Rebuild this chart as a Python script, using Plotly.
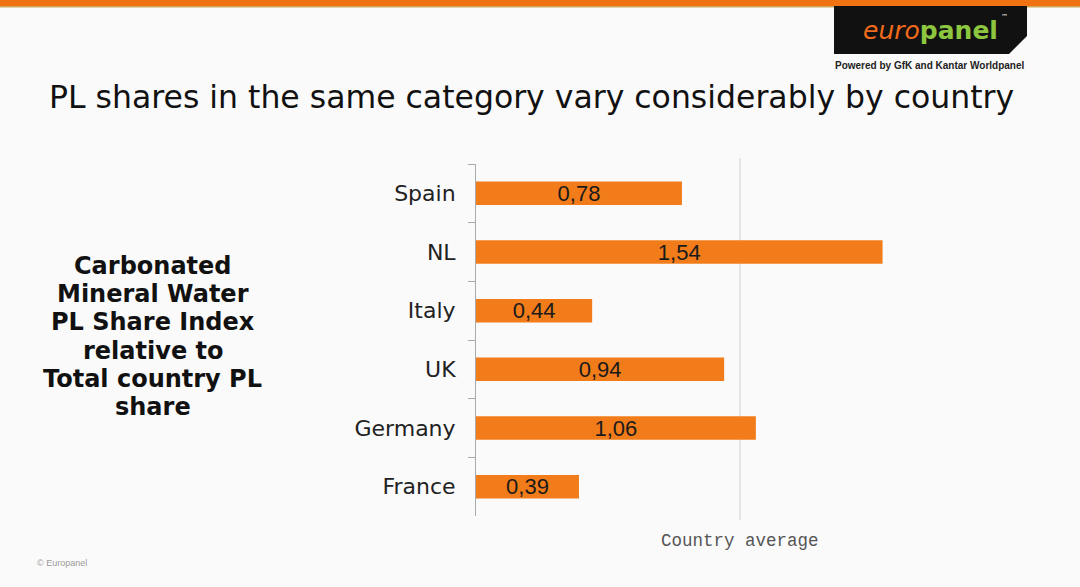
import plotly.graph_objects as go

countries = ["Spain", "NL", "Italy", "UK", "Germany", "France"]
index_values = [0.78, 1.54, 0.44, 0.94, 1.06, 0.39]
country_average = 1.0

title_text = "PL shares in the same category vary considerably by country"
side_lines = ["Carbonated", "Mineral Water", "PL Share Index", "relative to", "Total country PL", "share"]

W, H = 1080, 587
L, R, T, B = 476, 80, 164, 71
PW, PH = W - L - R, H - T - B


def px(x):
    return (x - L) / PW


def py(y):
    return (H - B - y) / PH


BAR = "#F27C1A"

fig = go.Figure()
fig.add_trace(go.Bar(
    y=countries,
    x=index_values,
    orientation="h",
    marker=dict(color=BAR, line=dict(width=0)),
    width=0.4,
    texttemplate="%{x:.2f}",
    textposition="inside",
    insidetextanchor="middle",
    constraintext="none",
    textfont=dict(family="Liberation Sans, Arial", size=22, color="#1a1a1a"),
    hoverinfo="skip",
))

shapes = []
# country average line
shapes.append(dict(type="line", xref="x", yref="paper", x0=country_average, x1=country_average,
                   y0=py(158), y1=py(520), line=dict(color="#cfcfcf", width=1), layer="below"))
# top orange bar
shapes.append(dict(type="rect", xref="paper", yref="paper", x0=px(0), x1=px(W), y0=py(0), y1=py(6),
                   fillcolor="#F07212", line=dict(width=0)))
shapes.append(dict(type="rect", xref="paper", yref="paper", x0=px(0), x1=px(W), y0=py(6), y1=py(7.5),
                   fillcolor="#CDA75A", line=dict(width=0)))
# logo box with slanted corner
pts = [(834, 6), (1027, 6), (1027, 36), (1009, 54), (834, 54)]
path = "M " + " L ".join(f"{px(a)},{py(b)}" for a, b in pts) + " Z"
shapes.append(dict(type="path", xref="paper", yref="paper", path=path,
                   fillcolor="#111111", line=dict(width=0)))

annotations = [
    dict(text=title_text, xref="paper", yref="paper", x=px(531), y=py(97),
         showarrow=False, xanchor="center", yanchor="middle",
         font=dict(family="DejaVu Sans, Verdana", size=31.5, color="#111111")),
    dict(text="Country average", xref="x", yref="paper", x=country_average, y=py(541),
         showarrow=False, xanchor="center", yanchor="middle",
         font=dict(family="Liberation Mono, monospace", size=17.5, color="#555555")),
    dict(text="© Europanel", xref="paper", yref="paper", x=px(35), y=py(563),
         showarrow=False, xanchor="left", yanchor="middle",
         font=dict(family="Liberation Sans, Arial", size=9, color="#9a9a9a")),
    dict(text='<span style="color:#F26A1B"><i>euro</i></span><span style="color:#8DC63F"><b>panel</b></span>',
         xref="paper", yref="paper", x=px(930), y=py(31),
         showarrow=False, xanchor="center", yanchor="middle",
         font=dict(family="DejaVu Sans, Verdana", size=25)),
    dict(text="™", xref="paper", yref="paper", x=px(1004), y=py(17),
         showarrow=False, xanchor="center", yanchor="middle",
         font=dict(family="DejaVu Sans", size=7, color="#ffffff")),
    dict(text="<b>Powered by GfK and Kantar Worldpanel</b>", xref="paper", yref="paper", x=px(930), y=py(65),
         showarrow=False, xanchor="center", yanchor="middle",
         font=dict(family="Liberation Sans, Arial", size=10, color="#222222")),
]
for i, line in enumerate(side_lines):
    annotations.append(dict(text=f"<b>{line}</b>", xref="paper", yref="paper",
                            x=px(153), y=py(266 + i * 28.2),
                            showarrow=False, xanchor="center", yanchor="middle",
                            font=dict(family="DejaVu Sans, Verdana", size=24, color="#111111")))

fig.update_layout(
    width=W, height=H,
    margin=dict(l=L, r=R, t=T, b=B),
    paper_bgcolor="#FAFAFA",
    plot_bgcolor="#FAFAFA",
    separators=",.",
    showlegend=False,
    bargap=0.6,
    shapes=shapes,
    annotations=annotations,
    xaxis=dict(range=[0, PW / 264], visible=False, fixedrange=True),
    yaxis=dict(
        autorange="reversed", type="category", categoryorder="array", categoryarray=countries,
        showline=True, linecolor="#aaaaaa", linewidth=1,
        ticks="outside", tickson="boundaries", ticklen=7, tickcolor="#aaaaaa",
        ticklabelstandoff=15,
        tickfont=dict(family="DejaVu Sans, Verdana", size=22, color="#222222"),
        showgrid=False, zeroline=False, fixedrange=True,
    ),
)

fig.write_html("out.html")
